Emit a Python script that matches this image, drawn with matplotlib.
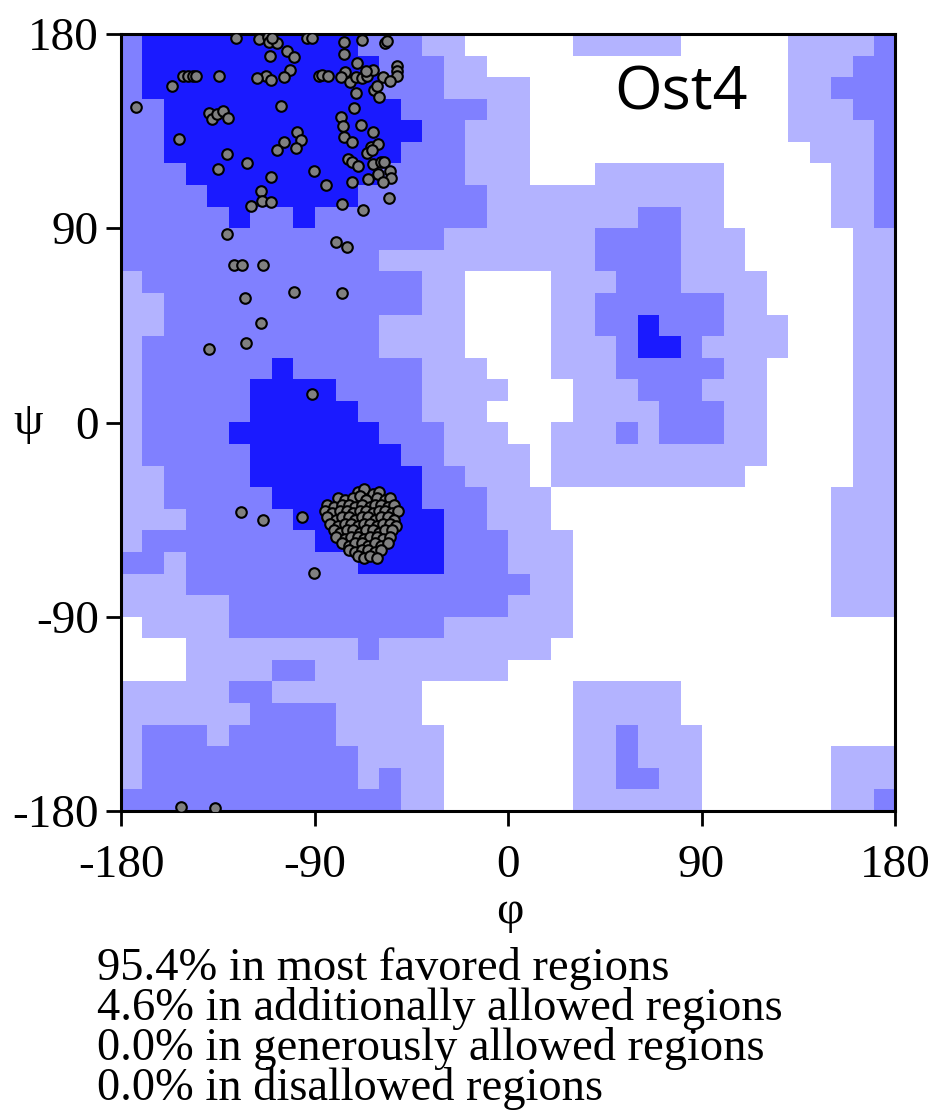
import numpy as np
import matplotlib
matplotlib.use("Agg")
import matplotlib.pyplot as plt
from matplotlib.colors import ListedColormap

# Ramachandran region map, 10-degree cells, rows from psi=180 (top) to psi=-180,
# columns from phi=-180 to phi=180.
# 0 = disallowed, 1 = generously allowed, 2 = additionally allowed, 3 = most favoured
region_rows = [
    "233333333332221100000111110000011112",
    "233333333333222110000000000000011122",
    "233333333333222111100000000000011222",
    "223333333333322221100000000000011122",
    "223333333333332211100000000000011112",
    "223333333333322211100000000000001112",
    "222333333333222211100011111100000112",
    "222233333332222221111111111100000112",
    "222223223222222221111111221100000112",
    "222222222222222111111122221110000011",
    "222222222222111111111122221110000011",
    "122222222222221100001112221111000011",
    "112222222222221100001122222211000011",
    "112222222222111100001122322211100011",
    "122222222222111100001112332111100011",
    "122222232222221110001112222211000011",
    "122222333322221111000111222111000011",
    "122222333332221110000111122211000011",
    "122223333333222111001112122211000011",
    "122222333333322111101111111111000011",
    "112222333333332211101111111110000011",
    "112222233333332221110000000000000111",
    "111222223333333221110000000000000111",
    "122222222333333222111000000000000111",
    "221222222223333222111000000000000111",
    "111222222222222222211000000000000111",
    "111112222222222222111000000000000111",
    "011112222222222111111000000000000000",
    "000111111112111111110000000000000000",
    "000111122111111111000000000000000000",
    "111112211111110000000111110000000000",
    "111111222211110000000111110000000000",
    "122212222211111000000112111000000000",
    "122222222221111000000112111000000111",
    "122222222221211000000112211000000111",
    "222222222222211000000111111000000112",
]

# Residue backbone dihedral angles (degrees)
phi_beta = [
    -126.5, -115.7, -111.8, -111.0, -107.6, -109.6, -93.7, -91.3, -76.3, -68.1,
    -57.2, -56.5, -103.0, -99.6, -110.7, -76.5, -70.1, -75.8, -101.4, -104.1,
    -112.6, -116.6, -110.4, -134.3, -151.0, -148.7, -146.4, -145.1, -156.1, -173.2,
    -87.9, -86.7, -83.6, -77.7, -73.5, -70.9, -67.8, -65.8, -62.7, -66.2,
    -58.0, -51.8, -51.8, -51.8, -54.9, -70.9, -62.2, -59.9, -60.8, -105.6,
    -71.5, -138.9, -137.8, -135.5, -132.4, -130.1, -77.7, -76.6, -68.5, -153.0,
    -98.3, -96.4, -104.0, -107.3, -98.6, -76.4, -72.6, -62.7, -63.9, -60.6,
    -65.4, -63.1, -130.6, -121.3, -134.7, -74.3, -72.4, -69.9, -62.7, -59.2,
    -57.5, -54.9, -54.5, -90.4, -110.1, -65.3, -60.6, -58.3, -72.4, -84.8,
    -114.9, -114.3, -110.4, -119.7, -77.1, -67.3, -55.4, -130.9, -80.0, -74.7,
    -127.3, -123.6, -113.8, -99.4, -77.4, -122.4, -115.1, -121.7, -139.1, -91.3,
    -124.4, -114.1, -95.8, -90.1, -152.1, -136.3,
]
psi_beta = [
    178.0, 177.5, 178.7, 176.1, 175.8, 178.3, 178.0, 178.0, 176.1, 177.0,
    175.8, 176.7, 172.1, 169.3, 170.0, 170.6, 166.4, 162.5, 163.3, 160.2,
    160.5, 159.6, 158.7, 160.5, 160.4, 160.4, 160.4, 160.4, 156.1, 146.0,
    160.5, 161.0, 160.4, 160.2, 157.6, 160.2, 159.5, 160.7, 163.3, 162.9,
    160.2, 165.3, 162.8, 160.5, 158.2, 152.5, 154.0, 151.0, 156.1, 146.5,
    145.9, 143.3, 140.6, 142.8, 144.3, 141.2, 141.7, 137.4, 137.9, 131.2,
    134.8, 130.7, 130.0, 126.3, 127.0, 132.4, 129.8, 134.8, 127.8, 128.9,
    124.7, 126.1, 124.2, 120.4, 117.6, 121.9, 120.9, 118.8, 119.6, 120.6,
    120.6, 116.5, 113.1, 116.5, 113.9, 112.8, 115.3, 111.3, 111.4, 110.1,
    107.3, 102.6, 102.3, 100.2, 101.4, 98.5, 104.2, 87.5, 83.6, 81.2,
    73.0, 73.0, 73.1, 60.6, 59.9, 57.5, 46.0, 36.9, 34.1, 13.1,
    -41.4, -45.1, -44.0, -69.9, -178.3, -178.7,
]

phi_helix = [
    -70, -67, -63, -60, -79, -76, -72, -69, -66, -61, -57, -55,
    -84, -81, -77, -74, -71, -68, -64, -62, -59, -56, -53,
    -85, -82, -78, -75, -72, -69, -66, -63, -60, -57, -54, -51,
    -84, -80, -77, -74, -71, -68, -65, -62, -59, -56, -53,
    -83, -79, -76, -73, -70, -67, -64, -61, -58, -55, -52,
    -81, -78, -75, -72, -69, -66, -63, -60, -57, -54,
    -80, -76, -73, -70, -67, -64, -61, -58, -55,
    -77, -74, -71, -68, -65, -62, -59, -56,
    -74, -71, -68, -65, -62, -59,
    -70, -67, -64, -61,
]
psi_helix = [
    -32, -31, -33, -32, -35, -36, -35, -34, -36, -35, -36, -35,
    -38, -39, -38, -38, -39, -38, -39, -38, -38, -39, -38,
    -41, -42, -41, -41, -42, -41, -41, -42, -41, -41, -42, -41,
    -44, -45, -44, -44, -45, -44, -44, -45, -44, -44, -45,
    -47, -48, -47, -47, -48, -47, -47, -48, -47, -47, -48,
    -50, -51, -50, -50, -51, -50, -50, -51, -50, -50,
    -53, -54, -53, -53, -54, -53, -53, -54, -53,
    -56, -57, -56, -56, -57, -56, -57, -56,
    -59, -60, -59, -59, -60, -59,
    -62, -63, -62, -63,
]

x_ticks = [-180, -90, 0, 90, 180]
y_ticks = [-180, -90, 0, 90, 180]
summary_lines = [
    "95.4% in most favored regions",
    "4.6% in additionally allowed regions",
    "0.0% in generously allowed regions",
    "0.0% in disallowed regions",
]

region_colors = ["#ffffff", "#b3b3ff", "#8080ff", "#1a1aff"]

serif = ["Liberation Serif", "DejaVu Serif"]
W, H = 943, 1119
fig = plt.figure(figsize=(W / 100, H / 100), dpi=100)
ax = fig.add_axes([121 / W, 1 - 811 / H, 774 / W, 777 / H])

grid = np.array([[int(ch) for ch in row] for row in region_rows])
ax.imshow(grid, cmap=ListedColormap(region_colors), vmin=-0.5, vmax=3.5,
          extent=[-180, 180, -180, 180], origin="upper", aspect="auto",
          interpolation="nearest", zorder=0)

ax.scatter(phi_beta + phi_helix, psi_beta + psi_helix, s=58, c="#808080",
           edgecolors="black", linewidths=1.5, zorder=3, clip_on=True)

ax.set_xlim(-180, 180)
ax.set_ylim(-180, 180)
ax.set_xticks(x_ticks)
ax.set_yticks(y_ticks)
ax.set_xticklabels([str(v) for v in x_ticks], family=serif, fontsize=34)
ax.set_yticklabels([str(v) for v in y_ticks], family=serif, fontsize=34)
ax.tick_params(direction="out", length=11, width=2)
ax.tick_params(axis="x", pad=13)
ax.tick_params(axis="y", pad=5)
for sp in ax.spines.values():
    sp.set_linewidth(2.2)

fig.text(28 / W, 1 - 423 / H, "ψ", family=serif, fontsize=34,
         ha="center", va="center")
fig.text(510 / W, 1 - 912 / H, "φ", family=serif, fontsize=34,
         ha="center", va="center")
ax.text(0.7235, 0.924, "Ost4", transform=ax.transAxes, family="Open Sans",
        fontsize=44, ha="center", va="center")

for i, line in enumerate(summary_lines):
    fig.text(97 / W, 1 - (968 + 40 * i) / H, line, family=serif, fontsize=33.5,
             ha="left", va="center")

fig.savefig("out.png", dpi=100)
